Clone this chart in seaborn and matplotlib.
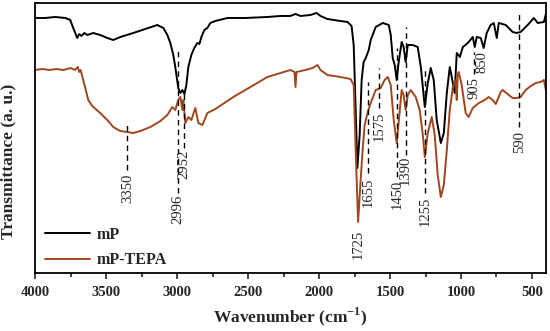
import numpy as np
import pandas as pd
import matplotlib
matplotlib.use('Agg')
import matplotlib.pyplot as plt
from matplotlib.ticker import MultipleLocator
import seaborn as sns

# --- espectros (número de onda em cm-1, transmitância em u.a.) ---
mp_wn = [4000, 3929, 3859, 3788, 3753, 3732, 3718, 3704, 3690, 3676, 3654, 3633,
         3591, 3542, 3492, 3450, 3400, 3309, 3224, 3140, 3097, 3069, 3048, 3027,
         3013, 2992, 2977, 2963, 2949, 2935, 2921, 2900, 2879, 2858, 2843, 2829,
         2808, 2787, 2766, 2731, 2646, 2519, 2364, 2272, 2202, 2166, 2131, 2060,
         2018, 1990, 1941, 1850, 1799, 1771, 1756, 1742, 1730, 1714, 1700, 1686,
         1671, 1650, 1636, 1601, 1551, 1509, 1495, 1481, 1467, 1453, 1439, 1418,
         1404, 1390, 1375, 1340, 1305, 1283, 1269, 1255, 1234, 1213, 1192, 1171,
         1142, 1121, 1100, 1079, 1065, 1044, 1030, 1008, 987, 952, 917, 903, 889,
         861, 840, 819, 791, 769, 748, 734, 685, 636, 608, 580, 530, 487, 459,
         416, 400]
mp_t = [255, 255, 256, 255, 253, 245, 240, 235, 239, 237, 240, 238,
        240, 238, 235, 233, 236, 240, 244, 248, 245, 238, 230, 218,
        206, 185, 180, 183, 179, 188, 206, 218, 225, 230, 229, 236,
        243, 245, 250, 252, 255, 255, 256, 257, 257, 259, 257, 258,
        260, 257, 254, 252, 251, 247, 228, 163, 105, 138, 193, 211,
        215, 223, 233, 246, 250, 248, 238, 215, 208, 193, 211, 231,
        226, 211, 228, 228, 226, 206, 186, 166, 190, 205, 193, 153,
        130, 140, 180, 206, 196, 180, 220, 216, 226, 230, 236, 226, 236,
        235, 225, 240, 248, 250, 235, 250, 248, 241, 240, 241, 248, 255, 250,
        251, 260]

tepa_wn = [4000, 3950, 3900, 3850, 3800, 3750, 3720, 3700, 3690, 3680, 3669, 3647,
           3626, 3598, 3542, 3492, 3450, 3400, 3351, 3309, 3259, 3189, 3118, 3069,
           3034, 3013, 2992, 2977, 2963, 2956, 2942, 2921, 2900, 2872, 2850, 2822,
           2787, 2731, 2604, 2484, 2364, 2272, 2202, 2173, 2166, 2159, 2096, 2046,
           2011, 1990, 1941, 1850, 1778, 1756, 1742, 1725, 1707, 1693, 1679, 1657,
           1636, 1601, 1566, 1538, 1516, 1495, 1474, 1453, 1439, 1418, 1404, 1390,
           1375, 1354, 1319, 1291, 1269, 1255, 1234, 1206, 1185, 1164, 1142, 1121,
           1100, 1079, 1058, 1037, 1030, 1023, 1016, 995, 967, 946, 917, 875, 833,
           805, 777, 755, 720, 706, 663, 636, 608, 580, 544, 508, 473, 438, 416, 402]
tepa_t = [203, 204, 203, 204, 203, 205, 203, 206, 201, 203, 197, 185,
          173, 167, 160, 153, 146, 142, 141, 140, 142, 146, 152, 158,
          166, 163, 173, 176, 163, 173, 150, 156, 153, 165, 150, 148,
          160, 164, 176, 186, 196, 200, 203, 201, 186, 201, 203, 205,
          208, 203, 198, 196, 194, 188, 123, 51, 93, 123, 148, 161,
          170, 183, 185, 193, 196, 188, 153, 130, 151, 183, 178, 163,
          178, 183, 176, 163, 138, 116, 140, 156, 138, 98, 76, 88,
          123, 163, 185, 193, 173, 198, 201, 188, 160, 156, 165, 170, 173,
          176, 173, 169, 181, 183, 178, 175, 175, 176, 183, 187, 190, 191, 193, 183]

# --- marcações das bandas (posição, início e fim da linha tracejada, posição do rótulo) ---
band_wn = [3350, 2996, 2952, 1725, 1655, 1575, 1450, 1390, 1255, 905, 850, 590]
band_top = [150, 225, 181, None, 191, 205, 225, 246, 206, 221, None, 260]
band_bot = [103, 80, 125, None, 100, 165, 96, 118, 80, 199, None, 146]
band_lab = [85, 64, 109, 29, 81, 147, 79, 103, 62, 185, 211, 131]

spectra = pd.concat([
    pd.DataFrame({'wn': mp_wn, 'T': mp_t, 'amostra': 'mP'}),
    pd.DataFrame({'wn': tepa_wn, 'T': tepa_t, 'amostra': 'mP-TEPA'}),
])

sns.set_theme(style='ticks')
plt.rcParams['font.family'] = ['Liberation Serif', 'DejaVu Serif']
plt.rcParams['mathtext.fontset'] = 'custom'
plt.rcParams['mathtext.rm'] = 'Liberation Serif'
plt.rcParams['mathtext.bf'] = 'Liberation Serif:bold'

fig, ax = plt.subplots(figsize=(5.5, 3.31), dpi=100)
fig.subplots_adjust(left=0.064, right=0.993, top=0.991, bottom=0.175)

sns.lineplot(data=spectra, x='wn', y='T', hue='amostra',
             palette={'mP': '#000000', 'mP-TEPA': '#a0461e'},
             linewidth=1.4, ax=ax, estimator=None)

for wn, top, bot, lab in zip(band_wn, band_top, band_bot, band_lab):
    if top is not None:
        ax.vlines(wn, bot, top, colors='black', linestyles=(0, (4, 3)), linewidth=1)
    ax.text(wn, lab, str(wn), rotation=90, ha='center', va='center', fontsize=10.5)

ax.set_xlim(4000, 400)
ax.set_ylim(0, 270)
ax.set_yticks([])
ax.xaxis.set_major_locator(MultipleLocator(500))
ax.xaxis.set_minor_locator(MultipleLocator(250))
ax.tick_params(axis='x', which='major', length=4, width=1.2, pad=5, labelsize=10.5)
ax.tick_params(axis='x', which='minor', length=3, width=1.2)
for lab in ax.get_xticklabels():
    lab.set_fontweight('bold')
for sp in ax.spines.values():
    sp.set_visible(True)
    sp.set_linewidth(1.3)
    sp.set_color('black')

ax.set_xlabel(r'Wavenumber (cm$^{\mathbf{-1}}$)', fontsize=12.5, fontweight='bold', labelpad=5)
ax.set_ylabel('Transmittance (a. u.)', fontsize=12.5, fontweight='bold')
ax.yaxis.set_label_coords(-0.036, 0.415)

ax.legend(loc='lower left', bbox_to_anchor=(-0.008, -0.035), frameon=False,
          handlelength=2.8, handletextpad=0.4, labelspacing=0.6,
          prop={'weight': 'bold', 'size': 11.5})

plt.savefig('out.png', dpi=100)
